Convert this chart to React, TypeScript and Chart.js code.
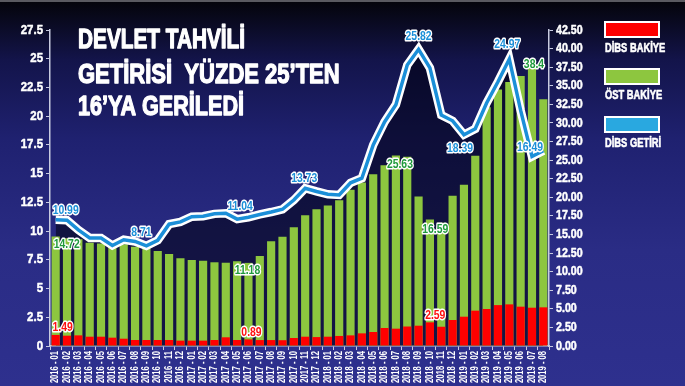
import React, { useEffect, useRef } from "react";
import { Chart, registerables } from "chart.js";

Chart.register(...registerables);

const months = [
  "2016 - 01", "2016 - 02", "2016 - 03", "2016 - 04", "2016 - 05", "2016 - 06",
  "2016 - 07", "2016 - 08", "2016 - 09", "2016 - 10", "2016 - 11", "2016 - 12",
  "2017 - 01", "2017 - 02", "2017 - 03", "2017 - 04", "2017 - 05", "2017 - 06",
  "2017 - 07", "2017 - 08", "2017 - 09", "2017 - 10", "2017 - 11", "2017 - 12",
  "2018 - 01", "2018 - 02", "2018 - 03", "2018 - 04", "2018 - 05", "2018 - 06",
  "2018 - 07", "2018 - 08", "2018 - 09", "2018 - 10", "2018 - 11", "2018 - 12",
  "2019 - 01", "2019 - 02", "2019 - 03", "2019 - 04", "2019 - 05", "2019 - 06",
  "2019 - 07", "2019 - 08",
];

// DİBS BAKİYE (right axis)
const dibsBakiye = [
  1.49, 1.39, 1.43, 1.25, 1.25, 1.12, 0.98, 0.81, 0.81, 0.81, 0.81, 0.72,
  0.72, 0.72, 0.81, 1.17, 0.81, 0.89, 0.8, 0.8, 0.78, 1.08, 1.25, 1.2,
  1.25, 1.35, 1.43, 1.7, 1.88, 2.42, 2.33, 2.62, 2.73, 3.18, 2.59, 3.5,
  3.94, 4.75, 4.98, 5.5, 5.6, 5.29, 5.15, 5.2,
];

// ÖST BAKİYE (right axis)
const ostBakiye = [
  14.72, 14.5, 14.35, 13.9, 13.8, 13.36, 13.7, 13.36, 13.1, 12.78, 12.37, 11.8,
  11.57, 11.48, 11.26, 11.2, 11.4, 11.18, 12.1, 14.1, 14.7, 15.96, 17.6, 18.4,
  18.9, 19.6, 21.0, 22.0, 23.1, 24.3, 25.63, 25.45, 20.1, 17.0, 16.59, 20.2,
  21.7, 25.6, 32.1, 34.5, 35.5, 36.3, 38.4, 33.2,
];

// DİBS GETİRİ (left axis)
const dibsGetiri = [
  10.99, 10.95, 10.1, 9.4, 9.4, 8.75, 9.25, 9.1, 8.71, 9.2, 10.6, 10.8,
  11.25, 11.3, 11.5, 11.55, 11.04, 11.2, 11.45, 11.66, 11.9, 12.7, 13.73, 13.45,
  13.2, 13.15, 14.2, 14.6, 17.5, 19.5, 21.0, 24.45, 25.82, 24.2, 20.1, 19.6,
  18.39, 18.9, 21.15, 23.0, 24.97, 20.5, 16.49, 17.0,
];

const leftTicks = [0, 2.5, 5, 7.5, 10, 12.5, 15, 17.5, 20, 22.5, 25, 27.5];
const rightTicks = [0, 2.5, 5, 7.5, 10, 12.5, 15, 17.5, 20, 22.5, 25, 27.5, 30, 32.5, 35, 37.5, 40, 42.5];

const titleLines = ["DEVLET TAHVİLİ", "GETİRİSİ  YÜZDE 25’TEN", "16’YA GERİLEDİ"];
const legendItems = ["DİBS BAKİYE", "ÖST BAKİYE", "DİBS GETİRİ"];

const getiriLabelIdx = [0, 8, 16, 22, 32, 36, 40, 42];
const ostLabelIdx = [0, 17, 30, 34, 42];
const bakiyeLabelIdx = [0, 17, 34];

const FONT = "'Liberation Sans', Arial, 'DejaVu Sans', sans-serif";

const C_RED = "#ff0000";
const C_GREEN = "#8dc63f";
const C_BLUE = "#1b8fd8";
const C_LEG_BLUE = "#29a8e0";

const getiriOffsets: Record<number, [number, number]> = {
  0: [10, -9.5], 8: [-5, -13.5], 16: [3, -13], 22: [-1, -10],
  32: [0, -13], 36: [-4, 13.5], 40: [-2, -15], 42: [-2, -9],
};
const ostOffsets: Record<number, [number, number]> = {
  0: [11, 7.5], 17: [-1, 8], 30: [4, 9], 34: [-6, 7], 42: [2, 4],
};
const bakiyeOffsets: Record<number, [number, number]> = {
  0: [7, -7.5], 17: [3, -6.5], 34: [-6, -11],
};

function condensed(
  ctx: CanvasRenderingContext2D, text: string, x: number, y: number,
  opts: { size: number; sx: number; align: CanvasTextAlign; baseline?: CanvasTextBaseline; color: string; rot?: number; stroke?: string; heavy?: number; }
) {
  ctx.save();
  ctx.translate(x, y);
  if (opts.rot) ctx.rotate(opts.rot);
  ctx.scale(opts.sx, 1);
  ctx.font = `bold ${opts.size}px ${FONT}`;
  ctx.textAlign = opts.align;
  ctx.textBaseline = opts.baseline || "middle";
  ctx.lineJoin = "round";
  if (opts.stroke) {
    ctx.lineWidth = 3;
    ctx.strokeStyle = opts.stroke;
    ctx.strokeText(text, 0, 0);
  }
  ctx.fillStyle = opts.color;
  ctx.fillText(text, 0, 0);
  if (opts.heavy) {
    ctx.lineWidth = opts.heavy;
    ctx.strokeStyle = opts.color;
    ctx.strokeText(text, 0, 0);
  }
  ctx.restore();
}

const decorPlugin = {
  id: "decor",
  beforeDraw(chart: any) {
    const { ctx, width, height } = chart;
    ctx.save();
    const g = ctx.createLinearGradient(0, 0, 0, height);
    g.addColorStop(0, "#040409");
    g.addColorStop(0.155, "#13144a");
    g.addColorStop(0.36, "#1f2170");
    g.addColorStop(0.65, "#2a2c85");
    g.addColorStop(1, "#2e308e");
    ctx.fillStyle = g;
    ctx.fillRect(0, 0, width, height);
    ctx.fillStyle = "#5a5a60";
    ctx.fillRect(0, 0, width, 2);
    ctx.restore();
  },
  afterDraw(chart: any) {
    const { ctx } = chart;
    const xs = chart.scales.x;
    const yl = chart.scales.y;
    const yr = chart.scales.y1;

    // title
    const titleY = [48, 83, 115];
    const titleSx = [0.77, 0.815, 0.8];
    titleLines.forEach((t, i) =>
      condensed(ctx, t, 78, titleY[i], { size: 27, sx: titleSx[i], align: "left", baseline: "alphabetic", color: "#ffffff", heavy: 1.3 })
    );

    // legend
    const colors = [C_RED, C_GREEN, C_LEG_BLUE];
    const boxY = [22, 69, 117];
    legendItems.forEach((t, i) => {
      ctx.save();
      ctx.fillStyle = colors[i];
      ctx.fillRect(605, boxY[i], 54, 15);
      ctx.strokeStyle = "#ffffff";
      ctx.lineWidth = 2;
      ctx.strokeRect(605, boxY[i], 54, 15);
      ctx.restore();
      condensed(ctx, t, 605, boxY[i] + 30, { size: 13, sx: 0.72, align: "left", baseline: "alphabetic", color: "#ffffff", heavy: 0.6 });
    });

    // axis tick labels
    leftTicks.forEach((v) =>
      condensed(ctx, String(v), 43, yl.getPixelForValue(v), { size: 13, sx: 0.88, align: "right", color: "#ffffff", heavy: 0.5 })
    );
    rightTicks.forEach((v) =>
      condensed(ctx, v.toFixed(2), 556, yr.getPixelForValue(v), { size: 13, sx: 0.82, align: "left", color: "#ffffff", heavy: 0.5 })
    );
    months.forEach((m, i) =>
      condensed(ctx, m, xs.getPixelForValue(i), 351, { size: 10, sx: 0.76, align: "right", color: "#ffffff", rot: -Math.PI / 2 })
    );

    // data labels
    getiriLabelIdx.forEach((i) => {
      const [dx, dy] = getiriOffsets[i] || [0, -10];
      condensed(ctx, String(dibsGetiri[i]), xs.getPixelForValue(i) + dx, yl.getPixelForValue(dibsGetiri[i]) + dy,
        { size: 13, sx: 0.8, align: "center", color: C_BLUE, stroke: "#ffffff" });
    });
    ostLabelIdx.forEach((i) => {
      const [dx, dy] = ostOffsets[i] || [0, -8];
      condensed(ctx, String(ostBakiye[i]), xs.getPixelForValue(i) + dx, yr.getPixelForValue(ostBakiye[i]) + dy,
        { size: 13, sx: 0.8, align: "center", color: "#1f9a3c", stroke: "#ffffff" });
    });
    bakiyeLabelIdx.forEach((i) => {
      const [dx, dy] = bakiyeOffsets[i] || [0, -8];
      condensed(ctx, String(dibsBakiye[i]), xs.getPixelForValue(i) + dx, yr.getPixelForValue(dibsBakiye[i]) + dy,
        { size: 13, sx: 0.8, align: "center", color: "#ff1010", stroke: "#ffffff" });
    });
  },
};

export default function App() {
  const ref = useRef<HTMLCanvasElement | null>(null);

  useEffect(() => {
    document.body.style.margin = "0";
    const canvas = ref.current;
    if (!canvas) return;
    const axisGrid = { display: true, drawOnChartArea: false, tickLength: 4, color: "#c8cbe0" };
    const axisBorder = { display: true, color: "#c8cbe0", width: 1.5 };
    const chart = new Chart(canvas, {
      type: "bar",
      data: {
        labels: months,
        datasets: [
          {
            type: "line",
            label: "DİBS GETİRİ",
            data: dibsGetiri,
            yAxisID: "y",
            borderColor: C_BLUE,
            borderWidth: 3.5,
            pointRadius: 0,
            tension: 0,
            fill: false,
            borderJoinStyle: "miter",
            order: 0,
          } as any,
          {
            type: "line",
            label: "outline",
            data: dibsGetiri,
            yAxisID: "y",
            borderColor: "#ffffff",
            borderWidth: 8.5,
            pointRadius: 0,
            tension: 0,
            fill: "origin",
            backgroundColor: "rgba(0,0,12,0.55)",
            borderJoinStyle: "miter",
            order: 1,
          } as any,
          {
            type: "bar",
            label: "DİBS BAKİYE",
            data: dibsBakiye,
            yAxisID: "y1",
            backgroundColor: C_RED,
            grouped: false,
            categoryPercentage: 1,
            barPercentage: 0.72,
            order: 2,
          } as any,
          {
            type: "bar",
            label: "ÖST BAKİYE",
            data: ostBakiye,
            yAxisID: "y1",
            backgroundColor: C_GREEN,
            grouped: false,
            categoryPercentage: 1,
            barPercentage: 0.72,
            order: 3,
          } as any,
        ],
      },
      options: {
        responsive: false,
        devicePixelRatio: 1,
        animation: false,
        layout: { padding: { top: 30, left: 0, right: 0, bottom: 0 } },
        plugins: {
          legend: { display: false },
          tooltip: { enabled: false },
          filler: { drawTime: "beforeDatasetsDraw" },
        } as any,
        scales: {
          x: {
            offset: true,
            grid: axisGrid,
            border: axisBorder,
            ticks: { display: false, autoSkip: false },
            afterFit: (s: any) => { s.height = 40; },
          },
          y: {
            position: "left",
            min: 0,
            max: 27.5,
            afterBuildTicks: (s: any) => { s.ticks = leftTicks.map((v) => ({ value: v })); },
            ticks: { display: false },
            grid: axisGrid,
            border: axisBorder,
            afterFit: (s: any) => { s.width = 50; },
          },
          y1: {
            position: "right",
            min: 0,
            max: 42.5,
            afterBuildTicks: (s: any) => { s.ticks = rightTicks.map((v) => ({ value: v })); },
            ticks: { display: false },
            grid: axisGrid,
            border: axisBorder,
            afterFit: (s: any) => { s.width = 136; },
          },
        },
      } as any,
      plugins: [decorPlugin],
    });
    return () => chart.destroy();
  }, []);

  return (
    <div style={{ width: 685, height: 386 }}>
      <canvas ref={ref} width={685} height={386} style={{ display: "block", width: 685, height: 386 }} />
    </div>
  );
}
